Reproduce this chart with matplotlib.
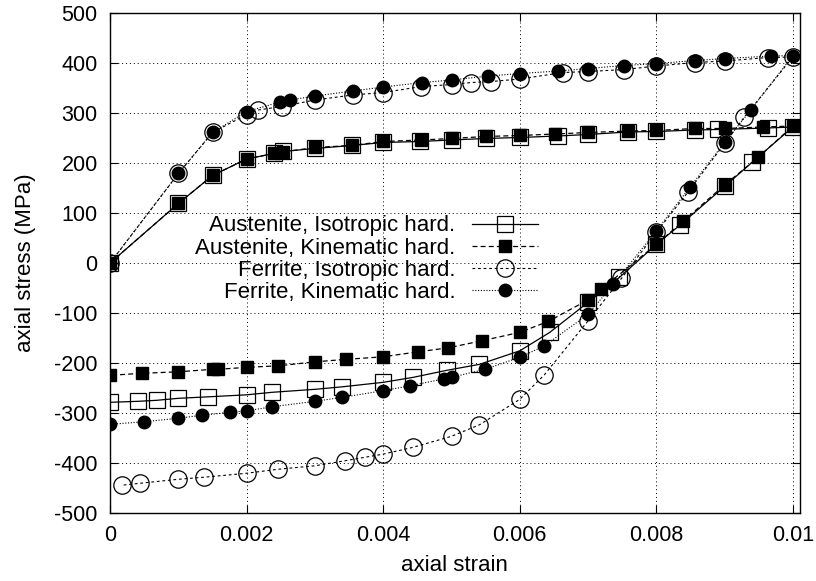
import matplotlib
matplotlib.use("Agg")
from matplotlib import pyplot as plt

plt.rcParams['font.family'] = ['Liberation Sans', 'DejaVu Sans']
plt.rcParams['axes.unicode_minus'] = False

labels = ["Austenite, Isotropic hard.", "Austenite, Kinematic hard.",
          "Ferrite, Isotropic hard.", "Ferrite, Kinematic hard."]

# austenite, isotropic hardening (loading then unloading)
aust_iso_strain = [0, 0.001, 0.0015, 0.002, 0.0024, 0.00253, 0.003, 0.00354, 0.004, 0.00454,
                   0.005, 0.0055, 0.006, 0.00656, 0.007, 0.00758, 0.008, 0.00856, 0.0089, 0.00963, 0.01,
                   0.0094, 0.009, 0.00835, 0.008, 0.00746, 0.007, 0.00644, 0.006, 0.00541, 0.00493,
                   0.00444, 0.004, 0.0034, 0.003, 0.00237, 0.002, 0.00144, 0.001, 0.00068, 0.00041, 0]
aust_iso_stress = [0, 119, 175, 208, 219, 223, 229, 235, 241, 243,
                   246, 249, 251, 254, 257, 262, 263, 266, 267, 270, 272,
                   201, 153, 76, 37, -29, -79, -139, -176, -203, -215,
                   -229, -239, -248, -253, -259, -264, -268, -271, -275, -277, -279]

# austenite, kinematic hardening
aust_kin_strain = [0, 0.001, 0.0015, 0.002, 0.0024, 0.00253, 0.003, 0.00354, 0.004, 0.00456,
                   0.005, 0.0055, 0.006, 0.00652, 0.007, 0.00759, 0.008, 0.00856, 0.009, 0.00956, 0.01,
                   0.00949, 0.009, 0.00839, 0.008, 0.00719, 0.007, 0.00642, 0.006, 0.00544, 0.00495,
                   0.00451, 0.00399, 0.00346, 0.003, 0.00246, 0.002, 0.00158, 0.0015, 0.00099, 0.00046, 0]
aust_kin_stress = [0, 119, 175, 208, 219, 222, 231, 235, 243, 246,
                   249, 253, 255, 258, 261, 264, 265, 269, 269, 272, 274,
                   211, 156, 83, 37, -53, -74, -117, -139, -156, -170,
                   -178, -188, -193, -198, -206, -209, -213, -213, -218, -221, -225]

# ferrite, isotropic hardening
fer_iso_strain = [0, 0.001, 0.0015, 0.002, 0.00217, 0.00251, 0.003, 0.00355, 0.004, 0.00456,
                  0.005, 0.00529, 0.00558, 0.006, 0.00663, 0.007, 0.00753, 0.008, 0.00856, 0.009, 0.00963, 0.01,
                  0.00929, 0.009, 0.00846, 0.008, 0.00749, 0.007, 0.00636, 0.006, 0.00541, 0.005,
                  0.00444, 0.00399, 0.00373, 0.00344, 0.003, 0.00246, 0.002, 0.00137, 0.001, 0.00044, 0.00017]
fer_iso_stress = [0, 179, 261, 297, 306, 313, 326, 336, 341, 353,
                  357, 361, 363, 368, 381, 383, 387, 394, 401, 404, 411, 412,
                  292, 239, 141, 61, -31, -116, -224, -273, -324, -347,
                  -369, -383, -389, -396, -406, -413, -421, -429, -433, -441, -445]

# ferrite, kinematic hardening
fer_kin_strain = [0, 0.001, 0.0015, 0.002, 0.00249, 0.00263, 0.003, 0.00355, 0.004, 0.00457,
                  0.005, 0.00553, 0.006, 0.00656, 0.007, 0.00752, 0.008, 0.00857, 0.009, 0.00968, 0.01,
                  0.00939, 0.009, 0.00849, 0.008, 0.00737, 0.007, 0.00636, 0.006, 0.00549, 0.005,
                  0.00489, 0.00439, 0.00399, 0.0034, 0.003, 0.00237, 0.002, 0.00176, 0.00134, 0.00099,
                  0.00049, 0]
fer_kin_stress = [0, 179, 261, 303, 322, 326, 334, 344, 352, 361,
                  366, 374, 379, 384, 389, 395, 399, 405, 409, 414, 415,
                  307, 241, 151, 64, -43, -103, -166, -189, -213, -229,
                  -232, -246, -256, -269, -277, -288, -296, -299, -305, -311,
                  -318, -323]

xticks = [0, 0.002, 0.004, 0.006, 0.008, 0.01]
xticklabels = ["0", "0.002", "0.004", "0.006", "0.008", "0.01"]
yticks = [-500, -400, -300, -200, -100, 0, 100, 200, 300, 400, 500]

fig = plt.figure(figsize=(8.16, 5.81), dpi=100)
ax = fig.add_axes([0.135, 0.1175, 0.845, 0.86])

ax.plot(aust_iso_strain, aust_iso_stress, color="black", lw=0.9, ls="-",
        marker="s", ms=12, mfc="none", mec="black", mew=0.9, label=labels[0])
ax.plot(aust_kin_strain, aust_kin_stress, color="black", lw=0.9, ls=(0, (4, 2.5)),
        marker="s", ms=8.5, mfc="black", mec="black", label=labels[1])
ax.plot(fer_iso_strain, fer_iso_stress, color="black", lw=0.8, ls=(0, (2.5, 2.5)),
        marker="o", ms=12.5, mfc="none", mec="black", mew=0.9, label=labels[2])
ax.plot(fer_kin_strain, fer_kin_stress, color="black", lw=0.8, ls=(0, (1, 1.5)),
        marker="o", ms=9, mfc="black", mec="black", label=labels[3])

ax.set_xlim(0, 0.0101)
ax.set_ylim(-500, 500)
ax.set_xticks(xticks)
ax.set_xticklabels(xticklabels)
ax.set_yticks(yticks)
ax.tick_params(direction="in", top=True, right=True, labelsize=15.5, pad=9, length=6)
ax.grid(True, ls=(0, (1, 3)), color="black", lw=0.7)
for s in ax.spines.values():
    s.set_linewidth(1.0)

ax.set_xlabel("axial strain", fontsize=16, labelpad=6)
ax.set_ylabel("axial stress (MPa)", fontsize=16, labelpad=13)

ax.legend(loc="upper right", bbox_to_anchor=(0.62, 0.595), frameon=False,
          markerfirst=False, fontsize=16, handlelength=2.95, handletextpad=0.75,
          labelspacing=0.05, borderpad=0, borderaxespad=0)

fig.savefig("out.png", dpi=100)
